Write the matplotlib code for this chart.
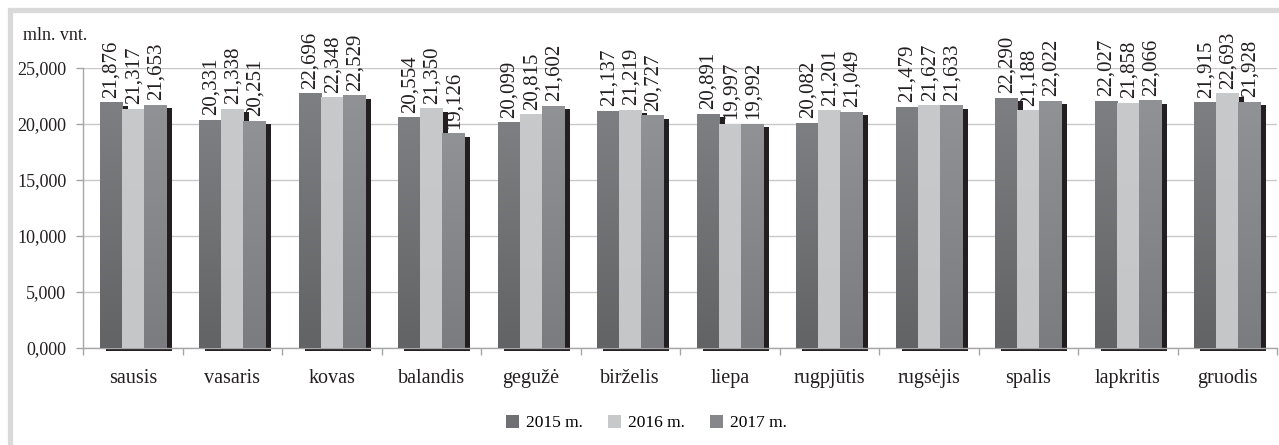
import numpy as np
import matplotlib
matplotlib.use("Agg")
import matplotlib.pyplot as plt
from matplotlib.patches import Rectangle, Patch
from matplotlib.colors import LinearSegmentedColormap

plt.rcParams['font.family'] = ['Liberation Serif', 'DejaVu Serif']

months = ["sausis", "vasaris", "kovas", "balandis", "gegužė", "birželis",
          "liepa", "rugpjūtis", "rugsėjis", "spalis", "lapkritis", "gruodis"]
series_names = ["2015 m.", "2016 m.", "2017 m."]
v2015 = [21876, 20331, 22696, 20554, 20099, 21137, 20891, 20082, 21479, 22290, 22027, 21915]
v2016 = [21317, 21338, 22348, 21350, 20815, 21219, 19997, 21201, 21627, 21188, 21858, 22693]
v2017 = [21653, 20251, 22529, 19126, 21602, 20727, 19992, 21049, 21633, 22022, 22066, 21928]
labels2015 = ["21,876", "20,331", "22,696", "20,554", "20,099", "21,137", "20,891", "20,082", "21,479", "22,290", "22,027", "21,915"]
labels2016 = ["21,317", "21,338", "22,348", "21,350", "20,815", "21,219", "19,997", "21,201", "21,627", "21,188", "21,858", "22,693"]
labels2017 = ["21,653", "20,251", "22,529", "19,126", "21,602", "20,727", "19,992", "21,049", "21,633", "22,022", "22,066", "21,928"]
yticks = [0, 5000, 10000, 15000, 20000, 25000]
ytick_labels = ["0,000", "5,000", "10,000", "15,000", "20,000", "25,000"]

series = [v2015, v2016, v2017]
series_labels = [labels2015, labels2016, labels2017]
# (top colour, bottom colour) per series
grad_colors = [("#7e7f82", "#626365"), ("#c8c9cb", "#c5c6c8"), ("#919295", "#7b7c7f")]
legend_colors = ["#6f7073", "#c7c8ca", "#86878a"]
shadow_color = "#231f20"

W, H = 1279, 445
fig = plt.figure(figsize=(W / 100, H / 100), dpi=100)
ax = fig.add_axes([83 / W, (H - 348) / H, (1277 - 83) / W, (348 - 68) / H])

ymax = 25000
px_per_unit_y = (348 - 68) / ymax
group_px = (1277 - 83) / 12
bw = 0.222
dx_sh = 6 / group_px
dy_sh = 3 / px_per_unit_y

x = np.arange(len(months))
offsets = [-bw, 0, bw]

grad = np.linspace(0, 1, 256).reshape(-1, 1)
for si, vals in enumerate(series):
    top_c, bot_c = grad_colors[si]
    cmap = LinearSegmentedColormap.from_list("g%d" % si, [bot_c, top_c])
    for i, v in enumerate(vals):
        xc = x[i] + offsets[si]
        x0 = xc - bw / 2
        # shadow
        ax.add_patch(Rectangle((x0 + dx_sh, -dy_sh), bw, v, facecolor=shadow_color,
                               edgecolor='none', zorder=2, clip_on=False))
        # gradient bar
        ax.imshow(grad, extent=[x0, x0 + bw, 0, v], origin='lower', aspect='auto',
                  cmap=cmap, zorder=3, interpolation='bilinear')
        ax.text(xc + 0.01, v + 5 / px_per_unit_y, series_labels[si][i], rotation=90,
                ha='center', va='bottom', fontsize=15, color='#231f20', zorder=1)

ax.set_xlim(-0.5, 11.5)
ax.set_ylim(0, ymax)
ax.set_yticks(yticks)
ax.set_yticklabels(ytick_labels, fontsize=13, color='#231f20')
ax.yaxis.grid(True, color='#c8c8c8', linewidth=1.0)
ax.set_axisbelow(True)

ax.set_xticks(x)
ax.set_xticklabels(months, fontsize=14.5, color='#231f20')
ax.set_xticks(np.arange(-0.5, 12, 1), minor=True)
ax.tick_params(axis='x', which='major', length=0, pad=15)
ax.tick_params(axis='x', which='minor', length=5, color='#a6a6a6', width=1)
ax.tick_params(axis='y', length=5, color='#a6a6a6', width=1, pad=7)

for s in ['top', 'right']:
    ax.spines[s].set_visible(False)
for s in ['left', 'bottom']:
    ax.spines[s].set_color('#a6a6a6')
    ax.spines[s].set_linewidth(1.0)

fig.text(23 / W, 1 - 35 / H, "mln. vnt.", fontsize=13, color='#231f20', va='center', ha='left')

handles = [Patch(facecolor=c, edgecolor='none') for c in legend_colors]
fig.legend(handles, series_names, loc='center', bbox_to_anchor=(646 / W, 1 - 423 / H),
           ncol=3, frameon=False, fontsize=12.5, handlelength=0.75, handleheight=0.75,
           handletextpad=0.4, columnspacing=1.45)

# outer light grey frame
fig.add_artist(Rectangle((9.5 / W, -0.2), 1.2, 1 - 9.5 / H + 0.2, transform=fig.transFigure,
                         facecolor='none', edgecolor='#d9d9d9', linewidth=3.8, clip_on=False))

fig.savefig("out.png", dpi=100)
